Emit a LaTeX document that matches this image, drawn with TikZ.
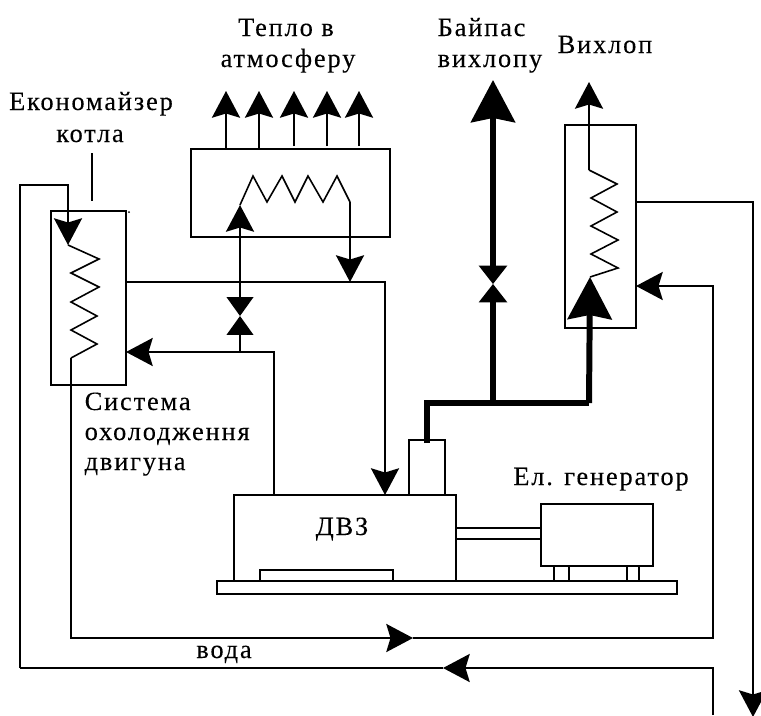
\documentclass[tikz,border=0pt]{standalone}
\usepackage{fontspec}
\setmainfont{Liberation Serif}[LetterSpace=7, FakeBold=0.15]
\usetikzlibrary{arrows.meta}

\tikzset{
	pipe/.style={line width=0.55pt, line join=miter},
	flow/.style={pipe, -{Stealth[length=7.6pt, width=8pt, inset=1.2pt]}},
	exhaust/.style={line width=1.7pt, line join=miter},
	bigflow/.style={exhaust, -{Stealth[length=12pt, width=12.5pt, inset=1.2pt]}},
	valvetip/.style={pipe, -{Triangle[length=5.4pt, width=7.6pt]}},
	coil/.style={line width=0.45pt, line join=miter},
	box/.style={draw, line width=0.55pt, inner sep=0pt, outer sep=0pt},
	lbl/.style={inner sep=0pt, anchor=base, font=\fontsize{7.5}{8}\selectfont},
	lblw/.style={lbl, anchor=base west},
}

\begin{document}
\begin{tikzpicture}[x=0.01cm, y=-0.01cm]
	\path[use as bounding box] (0, 0) rectangle (761, 715);

	\node[box, minimum width=0.75cm, minimum height=1.74cm] (econ) at (88.5, 298) {};
	\node[box, minimum width=1.99cm, minimum height=0.88cm] (radiator) at (290.5, 193) {};
	\node[box, minimum width=0.71cm, minimum height=2.03cm] (recup) at (600.5, 226.5) {};
	\node[box, minimum width=2.22cm, minimum height=0.86cm] (engine) at (345, 538) {};
	\node[box, minimum width=0.36cm, minimum height=0.55cm] (stack) at (427, 467.5) {};
	\node[box, minimum width=1.12cm, minimum height=0.62cm] (gen) at (597, 535) {};
	\node[box, minimum width=4.60cm, minimum height=0.13cm] (base) at (447, 587.5) {};
	\node[box, minimum width=1.33cm, minimum height=0.11cm] (plate) at (326.5, 575.5) {};
	\node[box, minimum width=0.15cm, minimum height=0.15cm] (foota) at (561.5, 573.5) {};
	\node[box, minimum width=0.12cm, minimum height=0.15cm] (footb) at (633, 573.5) {};
	\node[box, minimum width=0.85cm, minimum height=0.11cm] (shaft) at (498.5, 533.5) {};

	\node[lbl] (heata) at (286, 36) {Тепло в};
	\node[lbl] (heatb) at (288, 67) {атмосферу};
	\node[lbl] (econa) at (91, 110) {Економайзер};
	\node[lbl] (econb) at (90, 142) {котла};
	\node[lblw] (bypassa) at (437, 36) {Байпас};
	\node[lblw] (bypassb) at (437, 67) {вихлопу};
	\node[lblw] (outlet) at (557, 53) {Вихлоп};
	\node[lblw] (coolinga) at (84, 410) {Система};
	\node[lblw] (coolingb) at (84, 440) {охолодження};
	\node[lblw] (coolingc) at (84, 470) {двигуна};
	\node[lbl] (ice) at (342, 535) {ДВЗ};
	\node[lbl] (genlabel) at (601, 485) {Ел. генератор};
	\node[lbl] (water) at (224, 658) {вода};

	\foreach \i/\x/\yend in {1/226/149, 2/259/149, 3/294/146, 4/327/146, 5/359/146} {
		\coordinate (heatin\i) at (\x, \yend);
		\coordinate (heatout\i) at (\x, 91);
		\draw[flow] (heatin\i) -- (heatout\i);
	}

	\coordinate (leadera) at (92, 153);
	\coordinate (leaderb) at (92, 201);
	\draw[pipe] (leadera) -- (leaderb);
	\fill (129, 212) circle (1);

	% economizer coil and water loop
	\coordinate (econin) at (68, 245);
	\coordinate (econout) at (71, 358);
	\coordinate (loopa) at (20, 185);
	\coordinate (loopb) at (68, 185);
	\coordinate (loopc) at (20, 668);
	\coordinate (retcorner) at (713, 668);
	\coordinate (retend) at (713, 715);
	\coordinate (rettip) at (443, 668);
	\draw[flow] (loopc) -- (loopa) -- (loopb) -- (econin);
	\draw[flow] (retend) -- (retcorner) -- (rettip);
	\draw[pipe] (rettip) -- (loopc);
	\draw[coil] (econin) -- (99, 259) -- (71, 273) -- (99, 287) -- (71, 302)
		-- (97, 316) -- (71, 330) -- (97, 344) -- (econout);

	\coordinate (supcorner) at (71, 638);
	\coordinate (suptip) at (413, 638);
	\coordinate (supright) at (713, 638);
	\coordinate (suptop) at (713, 286);
	\coordinate (recupin) at (636, 286);
	\draw[flow] (econout) -- (supcorner) -- (suptip);
	\draw[flow] (suptip) -- (supright) -- (suptop) -- (recupin);

	% radiator circuit
	\coordinate (radin) at (240, 205);
	\coordinate (radout) at (350, 202);
	\coordinate (radtip) at (350, 282);
	\coordinate (valvea) at (240, 297);
	\coordinate (valveb) at (240, 316);
	\coordinate (valvec) at (240, 335);
	\coordinate (teeb) at (240, 352);
	\coordinate (econret) at (126, 352);
	\coordinate (hotcorner) at (274, 352);
	\coordinate (hotbase) at (274, 495);
	\coordinate (coldstart) at (126, 282);
	\coordinate (coldcorner) at (385, 282);
	\coordinate (coldtip) at (385, 495);
	\draw[flow] (valvea) -- (radin);
	\draw[valvetip] (valvea) -- (valveb);
	\draw[valvetip] (valvec) -- (valveb);
	\draw[pipe] (teeb) -- (valvec);
	\draw[flow] (hotbase) -- (hotcorner) -- (econret);
	\draw[coil] (radin) -- (253, 176) -- (267, 202) -- (282, 176) -- (295, 202)
		-- (308, 176) -- (323, 202) -- (337, 176) -- (radout);
	\draw[flow] (radout) -- (radtip);
	\draw[flow] (coldstart) -- (coldcorner) -- (coldtip);

	% exhaust gas
	\coordinate (stacktop) at (427, 443);
	\coordinate (stackcorner) at (427, 403);
	\coordinate (recupcorner) at (589, 403);
	\coordinate (recuptip) at (590, 277);
	\coordinate (bypassbase) at (493, 403);
	\coordinate (byvalvec) at (493, 302);
	\coordinate (byvalveb) at (493, 284);
	\coordinate (byvalvea) at (493, 266);
	\coordinate (bypasstip) at (493, 80);
	\draw[exhaust] (stacktop) |- (recupcorner);
	\draw[bigflow] (recupcorner) -- (recuptip);
	\draw[exhaust] (bypassbase) -- (byvalvec);
	\draw[bigflow] (byvalvea) -- (bypasstip);
	\draw[pipe, -{Triangle[length=5.2pt, width=8pt]}] (byvalvea) -- (byvalveb);
	\draw[pipe, -{Triangle[length=5.2pt, width=8pt]}] (byvalvec) -- (byvalveb);

	\coordinate (coilend) at (589, 170);
	\coordinate (outtip) at (589, 82);
	\draw[flow] (coilend) -- (outtip);
	\draw[coil] (coilend) -- (617, 184) -- (591, 198) -- (617, 212) -- (591, 226)
		-- (618, 240) -- (591, 254) -- (618, 268) -- (recuptip);

	% feed to the consumer
	\coordinate (feedstart) at (636, 202);
	\coordinate (feedcorner) at (753, 202);
	\coordinate (feedtip) at (753, 717);
	\draw[flow] (feedstart) -- (feedcorner) -- (feedtip);
\end{tikzpicture}
\end{document}
